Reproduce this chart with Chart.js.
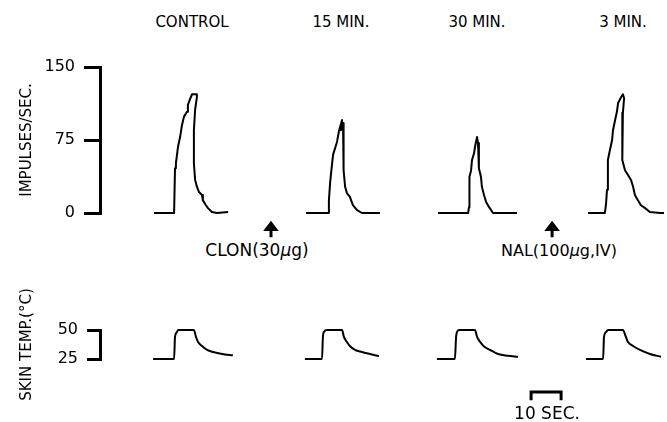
<!DOCTYPE html>
<html>
<head>
<meta charset="utf-8">
<script src="https://cdn.jsdelivr.net/npm/chart.js@4.4.0/dist/chart.umd.min.js"></script>
<style>
  html, body { margin: 0; padding: 0; background: #fff; }
  #fig { position: relative; width: 667px; height: 422px; overflow: hidden;
         font-family: 'DejaVu Sans', sans-serif; color: #000; }
  #fig canvas { position: absolute; left: 0; }
  .lbl { position: absolute; width: 200px; margin-left: -100px; text-align: center;
         white-space: nowrap; line-height: 1; }
</style>
</head>
<body>
<div id="fig">
  <canvas id="rate" width="667" height="200" style="top:40px"></canvas>
  <canvas id="temp" width="667" height="152" style="top:270px"></canvas>

  <div class="lbl" style="left:192px; top:15px; font-size:15px">CONTROL</div>
  <div class="lbl" style="left:341px; top:15px; font-size:15px">15 MIN.</div>
  <div class="lbl" style="left:477px; top:15px; font-size:15px">30 MIN.</div>
  <div class="lbl" style="left:623px; top:15px; font-size:15px">3 MIN.</div>

  <div class="lbl" style="left:257px; top:242px; font-size:17px">CLON(30<i>μ</i>g)</div>
  <div class="lbl" style="left:559px; top:243px; font-size:16px">NAL(100<i>μ</i>g,IV)</div>
  <div class="lbl" style="left:547px; top:405px; font-size:17px">10 SEC.</div>
</div>

<script>
// time axis in seconds, impulses/sec and skin temp (°C)

const timeRange = [0, 188];

// impulses/sec traces [sec, imp/s]
const controlRate = [[18,0],[24.7,0],[25,46],[25.3,51],[26,68],[26.7,78],[27.3,90],[28,99],[29,104],
  [29.3,111],[30,117],[30.7,122],[32.3,122],[32.3,119],[31.7,106],[31.3,85],[31.3,51],[31.7,34],
  [32.3,27],[33,21.5],[34,18.5],[34.3,13],[35.3,8],[36,5],[37.3,1],[39,0],[42.7,1]];
const min15Rate = [[68.7,0],[76,0],[76.3,13],[76.7,31],[77.3,49],[77.7,60],[79,73],[79.7,85],[80.7,95.5],
  [80.3,85],[81,92.5],[81.3,82],[81,65],[81.3,44],[81.7,27],[82.3,20.5],[83.3,16.5],[84.3,8],
  [85.7,3],[87.3,0],[93.3,0]];
const min30Rate = [[112.7,0],[122.7,0],[123,6],[123,24],[123.3,37],[123.7,44],[124,54.5],[124.7,61.6],
  [125,68],[125.7,78],[126,72],[126.3,46],[127,37],[127.3,27],[128,18.5],[128.7,11.3],[129.7,6],
  [131,0],[139,0]];
const nalRate = [[162.7,0],[168.3,0],[168.7,10],[169,24],[169.3,41],[169.3,54.5],[170,65],[170.7,75],
  [171,85],[171.7,95.5],[172.3,104],[172.7,113],[173.7,119],[174.3,122],[174.7,118],[174.3,103],
  [174,85],[174,68],[174.3,54.5],[175,44],[176,39],[177,34],[177.7,27],[178.3,18.5],[179.3,13],
  [180.3,8],[181.7,5],[183.3,1],[186.7,0],[188,0]];

// skin temperature traces [sec, °C]
const controlTemp = [[17.7,25],[24.7,25],[25,44],[25.7,48.3],[26,50],[31.3,50],[32,44],[32.7,39.7],
  [34,36.2],[35.7,32.8],[37.7,31],[40.7,29.3],[44.3,28.2]];
const min15Temp = [[68.3,25],[74,25],[74.3,44],[74.7,48.5],[75.7,50],[80.7,50],[81.3,44],[82.3,39.7],
  [83.3,36.2],[85,32.8],[87.3,31],[90,29.3],[93,27.5]];
const min30Temp = [[112.3,25],[118.3,25],[118.7,44],[119,48.3],[119.7,50],[125,50],[125.7,44],
  [126.7,39.7],[128,35.8],[130,32.8],[132.7,29.3],[136,27.8],[139.3,26.8]];
const nalTemp = [[162,25],[167.7,25],[168,44],[168.7,48.3],[169.3,50],[174.3,50],[175.3,44],[176,39.7],
  [177.7,36.2],[180,32.8],[183.3,29.3],[187,27]];

// axis ticks [min, max, step]
const rateTicks = [0, 150, 75];
const tempTicks = [25, 50, 25];

// drug injections (sec); arrow below the baseline: [tail, head base, tip] in imp/s, head half-width in sec
const drugTimes = [57, 150.7];
const arrowSpan = [-25, -17, -10.5];
const arrowHalfWidth = 1.6;

// 10 s calibration bar (start sec, length sec) and its span (°C units)
const scaleBar = [143.7, 10];
const scaleBarSpan = [-10.5, -3.5];

const FONT = 'DejaVu Sans';
const INK = '#000';
const AXIS_W = 100;

const pts = arr => arr.map(([x, y]) => ({ x, y }));

function trace(arr, smooth) {
  return {
    data: pts(arr),
    borderColor: INK,
    borderWidth: 2,
    pointRadius: 0,
    tension: 0,
    cubicInterpolationMode: smooth ? 'monotone' : 'default',
    borderJoinStyle: 'round',
    clip: false,
  };
}

function yAxis(ticks, label, tickLen) {
  return {
    min: ticks[0], max: ticks[1],
    afterFit: s => { s.width = AXIS_W; },
    border: { display: true, color: INK, width: 3 },
    grid: { drawOnChartArea: false, drawTicks: true, tickLength: tickLen, lineWidth: 3, color: INK },
    ticks: { stepSize: ticks[2], padding: 9, color: INK, autoSkip: false, font: { family: FONT, size: 16 } },
    title: { display: true, text: label, color: INK, font: { family: FONT, size: 15 },
             padding: { top: 18, bottom: 0 } },
  };
}

function baseOptions(padding, y) {
  return {
    responsive: false,
    animation: false,
    layout: { padding },
    plugins: { legend: { display: false }, tooltip: { enabled: false } },
    scales: {
      x: { type: 'linear', min: timeRange[0], max: timeRange[1], display: false },
      y,
    },
  };
}

// arrow = shaft, head outline, then a stroke across the head so it reads as solid
const arrowSets = drugTimes.map(t => {
  const [tail, base, tip] = arrowSpan;
  const w = arrowHalfWidth;
  const mid = base + (tip - base) * 0.45;
  return {
    data: [[t, tail], [t, base], [t - w, base], [t, tip], [t + w, base], [t - w, base],
           [t - w * 0.55, mid], [t + w * 0.55, mid]].map(([x, y]) => ({ x, y })),
    borderColor: INK,
    borderWidth: 3,
    pointRadius: 0,
    borderJoinStyle: 'miter',
    clip: false,
  };
});

new Chart(document.getElementById('rate'), {
  type: 'line',
  data: {
    datasets: [controlRate, min15Rate, min30Rate, nalRate].map(a => trace(a, false)).concat(arrowSets),
  },
  options: baseOptions({ top: 27, bottom: 27, left: 0, right: 3 },
                       yAxis(rateTicks, 'IMPULSES/SEC.', 16)),
});

const barData = [
  { x: scaleBar[0], y: scaleBarSpan[0] },
  { x: scaleBar[0], y: scaleBarSpan[1] },
  { x: scaleBar[0] + scaleBar[1], y: scaleBarSpan[1] },
  { x: scaleBar[0] + scaleBar[1], y: scaleBarSpan[0] },
];

new Chart(document.getElementById('temp'), {
  type: 'line',
  data: {
    datasets: [controlTemp, min15Temp, min30Temp, nalTemp].map(a => trace(a, true)).concat([{
      data: barData, borderColor: INK, borderWidth: 3, pointRadius: 0, clip: false,
    }]),
  },
  options: baseOptions({ top: 60, bottom: 63, left: 0, right: 3 },
                       yAxis(tempTicks, 'SKIN TEMP.(°C)', 13)),
});
</script>
</body>
</html>
